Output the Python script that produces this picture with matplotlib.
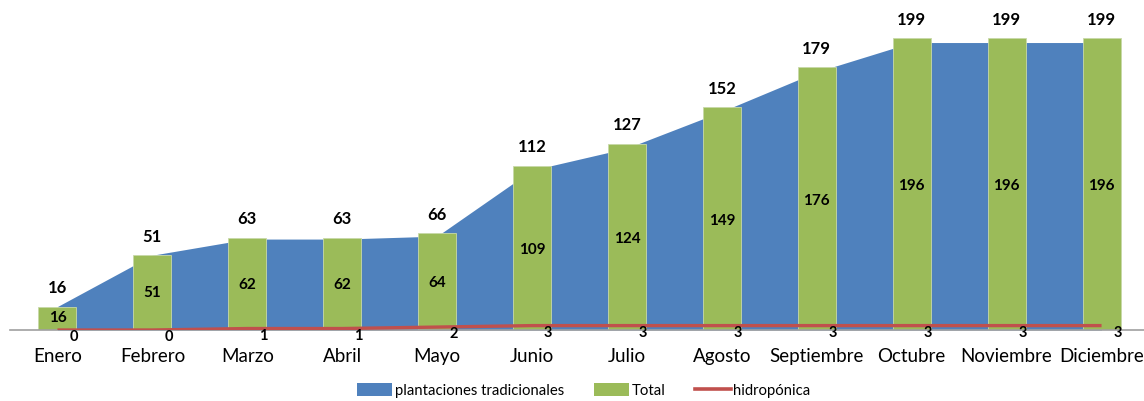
import numpy as np
import matplotlib
matplotlib.use("Agg")
import matplotlib.pyplot as plt
from matplotlib.lines import Line2D
from matplotlib.patches import Patch

# ---------------- data ----------------
meses = ["Enero", "Febrero", "Marzo", "Abril", "Mayo", "Junio", "Julio",
         "Agosto", "Septiembre", "Octubre", "Noviembre", "Diciembre"]
tradicionales = [16, 51, 62, 62, 64, 109, 124, 149, 176, 196, 196, 196]
total = [16, 51, 63, 63, 66, 112, 127, 152, 179, 199, 199, 199]
hidroponica = [0, 0, 1, 1, 2, 3, 3, 3, 3, 3, 3, 3]

c_blue = "#4F81BD"
c_green = "#9BBB59"
c_red = "#C0504D"

plt.rcParams["font.family"] = ["Lato", "DejaVu Sans"]

x = np.arange(len(meses))

fig = plt.figure(figsize=(11.44, 4.01), dpi=100)
ax = fig.add_axes([10 / 1144, 71 / 401, 1139 / 1144, 308 / 401])

# area (plantaciones tradicionales)
ax.fill_between(x, 0, tradicionales, color=c_blue, lw=0, zorder=1)
# bars (Total)
ax.bar(x, total, width=0.4, color=c_green, edgecolor="#C8D9A8", linewidth=0.6, zorder=2)
# line (hidroponica)
ax.plot(x, hidroponica, color=c_red, lw=2.4, zorder=3, solid_capstyle="butt")

# labels
for i in range(len(x)):
    ax.text(x[i], total[i] + 7, str(total[i]), ha="center", va="bottom",
            fontsize=12, fontweight="bold", zorder=5)
    ax.text(x[i], tradicionales[i] / 2, str(tradicionales[i]), ha="center", va="center",
            fontsize=11, fontweight="bold", zorder=5)
    ax.text(x[i] + 0.17, hidroponica[i] - 0.2, str(hidroponica[i]), ha="center", va="top",
            fontsize=10.5, fontweight="bold", zorder=5)

ax.set_xlim(-0.5, 11.5)
ax.set_ylim(0, 210)
ax.set_xticks(x)
ax.set_xticklabels(meses, fontsize=13.5)
ax.tick_params(axis="x", length=0, pad=13)
ax.set_yticks([])
for s in ["top", "right", "left"]:
    ax.spines[s].set_visible(False)
ax.spines["bottom"].set_color("#A0A0A0")
ax.spines["bottom"].set_linewidth(1.2)

handles = [Patch(facecolor=c_blue, label="plantaciones tradicionales"),
           Patch(facecolor=c_green, label="Total"),
           Line2D([0], [0], color=c_red, lw=2.6, label="hidropónica")]
fig.legend(handles=handles, loc="lower center", bbox_to_anchor=(0.51, -0.025), ncol=3,
           frameon=False, fontsize=10.7, handlelength=2.4, handleheight=0.9,
           handletextpad=0.15, columnspacing=2.0)

fig.savefig("out.png", dpi=100)
